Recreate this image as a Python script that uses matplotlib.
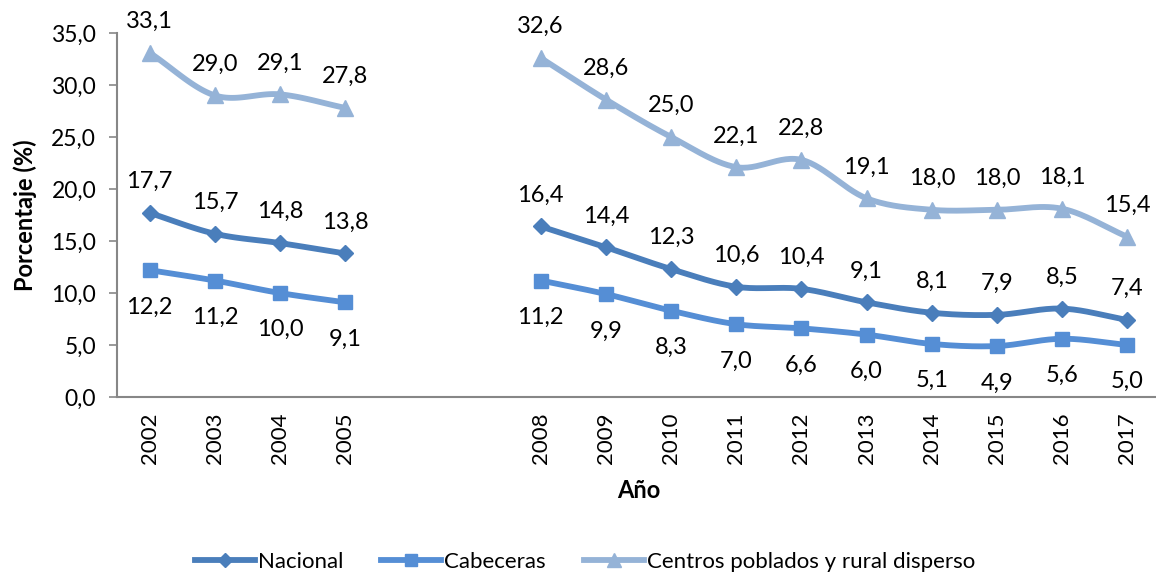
import numpy as np
import matplotlib
matplotlib.use("Agg")
import matplotlib.pyplot as plt
from matplotlib.lines import Line2D

years = ["2002", "2003", "2004", "2005", "2006", "2007", "2008", "2009", "2010",
         "2011", "2012", "2013", "2014", "2015", "2016", "2017"]
tick_labels = ["2002", "2003", "2004", "2005", "", "", "2008", "2009", "2010",
               "2011", "2012", "2013", "2014", "2015", "2016", "2017"]
nacional = [17.7, 15.7, 14.8, 13.8, None, None, 16.4, 14.4, 12.3, 10.6, 10.4, 9.1, 8.1, 7.9, 8.5, 7.4]
cabeceras = [12.2, 11.2, 10.0, 9.1, None, None, 11.2, 9.9, 8.3, 7.0, 6.6, 6.0, 5.1, 4.9, 5.6, 5.0]
centros = [33.1, 29.0, 29.1, 27.8, None, None, 32.6, 28.6, 25.0, 22.1, 22.8, 19.1, 18.0, 18.0, 18.1, 15.4]
series_names = ["Nacional", "Cabeceras", "Centros poblados y rural disperso"]

plt.rcParams['font.family'] = ['Lato', 'DejaVu Sans']
FS = 16
FS_LBL = 17

fig = plt.figure(figsize=(11.56, 5.73), dpi=100)
ax = fig.add_axes([117/1156, 1 - 397/573, (1160 - 117)/1156, (397 - 33)/573])


def smooth(xs, ys, n=30):
    xs = np.asarray(xs, float); ys = np.asarray(ys, float)
    if len(xs) < 2:
        return xs, ys
    px = np.concatenate([[2*xs[0]-xs[1]], xs, [2*xs[-1]-xs[-2]]])
    py = np.concatenate([[2*ys[0]-ys[1]], ys, [2*ys[-1]-ys[-2]]])
    outx, outy = [], []
    t = np.linspace(0, 1, n)
    h00 = 2*t**3 - 3*t**2 + 1
    h10 = t**3 - 2*t**2 + t
    h01 = -2*t**3 + 3*t**2
    h11 = t**3 - t**2
    k = 0.5
    for i in range(1, len(px) - 2):
        m1y = k*(py[i+1] - py[i-1]); m2y = k*(py[i+2] - py[i])
        m1x = k*(px[i+1] - px[i-1]); m2x = k*(px[i+2] - px[i])
        outx.append(h00*px[i] + h10*m1x + h01*px[i+1] + h11*m2x)
        outy.append(h00*py[i] + h10*m1y + h01*py[i+1] + h11*m2y)
    return np.concatenate(outx), np.concatenate(outy)


colors = ["#4A7EBB", "#558ED5", "#95B3D7"]
markers = ["D", "s", "^"]
msizes = [8, 10, 12]
label_off = [22.5, -26.5, 22.5]
all_series = [nacional, cabeceras, centros]

x = np.arange(len(years))
for vals, col, mk, ms, off in zip(all_series, colors, markers, msizes, label_off):
    segs, cur = [], []
    for i, v in enumerate(vals):
        if v is None:
            if cur:
                segs.append(cur); cur = []
        else:
            cur.append(i)
    if cur:
        segs.append(cur)
    for seg in segs:
        sx, sy = smooth([x[i] for i in seg], [vals[i] for i in seg])
        ax.plot(sx, sy, color=col, lw=4.2, solid_capstyle='butt', zorder=2, clip_on=False)
        ax.plot([x[i] for i in seg], [vals[i] for i in seg], linestyle='none',
                marker=mk, color=col, markersize=ms, zorder=3, clip_on=False)
    for i, v in enumerate(vals):
        if v is None:
            continue
        txt = f"{v:.1f}".replace(".", ",")
        ax.annotate(txt, (x[i], v), xytext=(0, off), textcoords='offset points',
                    ha='center', va='center', fontsize=FS_LBL)

ax.set_xlim(-0.5, 15.5)
ax.set_ylim(0, 35)
yt = np.arange(0, 35.1, 5)
ax.set_yticks(yt)
ax.set_yticklabels([f"{v:.1f}".replace(".", ",") for v in yt], fontsize=16.5)
ax.set_xticks(x)
ax.set_xticklabels(tick_labels, rotation=90, fontsize=FS)
ax.tick_params(axis='x', length=0, pad=11)
ax.tick_params(axis='y', length=6, width=1.2, color='#878787', pad=9)
for s in ['top', 'right']:
    ax.spines[s].set_visible(False)
for s in ['left', 'bottom']:
    ax.spines[s].set_color('#878787')
    ax.spines[s].set_linewidth(1.5)

ax.set_ylabel("Porcentaje (%)", fontsize=17, fontweight='bold', labelpad=10)
ax.set_xlabel("Año", fontsize=17, fontweight='bold', labelpad=11)

handles = [Line2D([0], [0], color=c, lw=4.2, marker=m, markersize=ms*0.85)
           for c, m, ms in zip(colors, markers, msizes)]
fig.legend(handles, series_names, loc='center', bbox_to_anchor=(0.506, 1 - 562/573),
           ncol=3, frameon=False, fontsize=FS, handlelength=2.7, columnspacing=1.7,
           handletextpad=0.15, borderpad=0)

fig.savefig("out.png", dpi=100)
